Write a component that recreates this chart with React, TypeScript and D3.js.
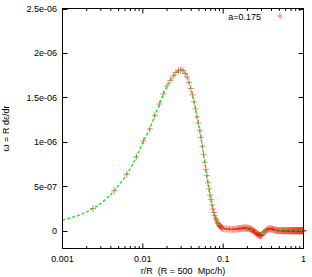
import React from 'react';
import * as d3 from 'd3';

// tick labels
const xTicks = [0.001, 0.01, 0.1, 1];
const xTickLabels = ['0.001', '0.01', '0.1', '1'];
// y values are in units of 1e-6
const yTicks = [0, 0.5, 1, 1.5, 2, 2.5];
const yTickLabels = ['0', '5e-07', '1e-06', '1.5e-06', '2e-06', '2.5e-06'];

const legendLabel = 'a=0.175';

// measured points (red +), r < 0.1
const dataR = [
  0.0024, 0.0044, 0.0063, 0.0083, 0.0102, 0.0122, 0.0141, 0.0161, 0.0180, 0.0200,
  0.0219, 0.0239, 0.0258, 0.0278, 0.0297, 0.0317, 0.0336, 0.0356, 0.0375, 0.0395,
  0.0414, 0.0434, 0.0453, 0.0473, 0.0492, 0.0512, 0.0531, 0.0551, 0.0570, 0.0590,
  0.0609, 0.0629, 0.0648, 0.0668, 0.0687, 0.0707, 0.0726, 0.0746, 0.0765, 0.0785,
  0.0804, 0.0824, 0.0843, 0.0863, 0.0882, 0.0902, 0.0921, 0.0941, 0.0960, 0.0980,
  0.0999,
];
const dataV = [
  0.25, 0.45, 0.635, 0.83, 1.01, 1.145, 1.295, 1.425, 1.54, 1.63,
  1.69, 1.74, 1.78, 1.80, 1.81, 1.80, 1.77, 1.73, 1.67, 1.60,
  1.53, 1.45, 1.37, 1.28, 1.21, 1.13, 1.05, 0.95, 0.86, 0.77,
  0.69, 0.62, 0.54, 0.47, 0.40, 0.35, 0.29, 0.245, 0.205, 0.17,
  0.14, 0.12, 0.095, 0.08, 0.065, 0.055, 0.048, 0.04, 0.033, 0.028,
  0.025,
];

// measured points beyond r = 0.1 (they merge into a band)
const bandR = [
  0.105, 0.110, 0.115, 0.120, 0.125, 0.130, 0.135, 0.140, 0.145, 0.150,
  0.155, 0.160, 0.165, 0.170, 0.175, 0.180, 0.185, 0.190, 0.195, 0.200,
  0.205, 0.210, 0.215, 0.220, 0.225, 0.230, 0.235, 0.240, 0.245, 0.250,
  0.255, 0.260, 0.265, 0.270, 0.275, 0.280, 0.285, 0.290, 0.295, 0.300,
  0.31, 0.32, 0.33, 0.34, 0.35, 0.36, 0.37, 0.38, 0.39, 0.40,
  0.41, 0.42, 0.43, 0.44, 0.45, 0.46, 0.47, 0.48, 0.49, 0.50,
  0.51, 0.52, 0.53, 0.54, 0.55, 0.56, 0.57, 0.58, 0.59, 0.60,
  0.61, 0.62, 0.63, 0.64, 0.65, 0.66, 0.67, 0.68, 0.69, 0.70,
  0.71, 0.72, 0.73, 0.74, 0.75, 0.76, 0.77, 0.78, 0.79, 0.80,
  0.81, 0.82, 0.83, 0.84, 0.85, 0.86, 0.87, 0.88, 0.89, 0.90,
  0.91, 0.92, 0.93, 0.94, 0.95, 0.96, 0.97, 0.98, 0.99, 1.00,
];
const bandV = [
  0.022, 0.020, 0.018, 0.017, 0.016, 0.016, 0.016, 0.017, 0.018, 0.020,
  0.022, 0.024, 0.026, 0.027, 0.029, 0.030, 0.030, 0.030, 0.029, 0.028,
  0.026, 0.024, 0.021, 0.017, 0.013, 0.008, 0.003, -0.003, -0.009, -0.015,
  -0.021, -0.028, -0.034, -0.040, -0.045, -0.050, -0.053, -0.055, -0.054, -0.050,
  -0.038, -0.022, -0.009, 0.002, 0.010, 0.016, 0.020, 0.022, 0.022, 0.020,
  0.017, 0.014, 0.011, 0.008, 0.006, 0.004, 0.003, 0.002, 0.001, 0.001,
  0.001, 0.001, 0.001, 0.001, 0.000, 0.000, 0.000, 0.000, 0.000, 0.000,
  0.000, 0.000, 0.000, 0.000, 0.000, 0.000, 0.000, 0.000, 0.000, 0.000,
  0.000, 0.000, 0.000, 0.000, 0.000, 0.000, 0.000, 0.000, 0.000, 0.000,
  0.000, 0.000, 0.000, 0.000, 0.000, 0.000, 0.000, 0.000, 0.000, 0.000,
  0.000, 0.000, 0.000, 0.000, 0.000, 0.000, 0.000, 0.000, 0.000, 0.000,
];

// fitted curve (green dashed)
const fitR = [
  0.001, 0.0015, 0.002, 0.003, 0.004, 0.005, 0.006, 0.007, 0.008, 0.009,
  0.010, 0.012, 0.014, 0.016, 0.018, 0.020, 0.022, 0.024, 0.026, 0.028,
  0.030, 0.032, 0.034, 0.036, 0.038, 0.040, 0.042, 0.044, 0.046, 0.048,
  0.050, 0.052, 0.054, 0.056, 0.058, 0.060, 0.062, 0.064, 0.066, 0.068,
  0.070, 0.073, 0.076, 0.080, 0.085, 0.090, 0.095, 0.10, 0.12, 0.14,
  0.16, 0.18, 0.20, 0.22, 0.24, 0.26, 0.28, 0.30, 0.32, 0.34,
  0.37, 0.40, 0.45, 0.5, 0.6, 0.7, 0.8, 0.9, 1.0,
];
const fitV = [
  0.12, 0.165, 0.21, 0.305, 0.41, 0.51, 0.605, 0.70, 0.80, 0.90,
  1.00, 1.13, 1.29, 1.42, 1.54, 1.63, 1.69, 1.74, 1.78, 1.80,
  1.81, 1.80, 1.77, 1.72, 1.66, 1.58, 1.51, 1.42, 1.34, 1.25,
  1.17, 1.09, 1.00, 0.91, 0.82, 0.73, 0.64, 0.56, 0.49, 0.42,
  0.36, 0.28, 0.21, 0.145, 0.09, 0.055, 0.035, 0.025, 0.012, 0.012,
  0.015, 0.02, 0.02, 0.015, 0.005, -0.008, -0.018, -0.02, -0.012, 0.0,
  0.01, 0.012, 0.007, 0.003, 0.0, 0.0, 0.0, 0.0, 0.0,
];

const W = 312;
const H = 277;
const left = 62.5, right = 303.5, top = 8.5, bottom = 248.5;
const font = '"Liberation Sans", Arial, sans-serif';

export default function App() {
  const x = d3.scaleLog().domain([0.001, 1]).range([left, right]);
  const y = d3.scaleLinear().domain([-0.2, 2.5]).range([bottom, top]);

  const minorX = x.ticks().filter(t => !xTicks.some(m => Math.abs(m - t) < 1e-9));

  const line = d3.line<number>()
    .x((_, i) => x(fitR[i]))
    .y(d => y(d));

  const points = [
    ...dataR.map((r, i) => [x(r), y(dataV[i])]),
    ...bandR.map((r, i) => [x(r), y(bandV[i])]),
  ];
  const plus = (px: number, py: number) => `M${px - 3},${py}h6M${px},${py - 3.5}v7`;

  return (
    <svg width={W} height={H} style={{ position: 'absolute', left: 0, top: 0 }}
      fontFamily={font} fontSize={9}>
      <rect width={W} height={H} fill="#fff" />

      {/* ticks */}
      <g stroke="#000" strokeWidth={1}>
        {xTicks.map(t => (
          <g key={'xm' + t}>
            <line x1={x(t)} x2={x(t)} y1={bottom} y2={bottom - 5} />
            <line x1={x(t)} x2={x(t)} y1={top} y2={top + 5} />
          </g>
        ))}
        {minorX.map(t => (
          <g key={'xn' + t}>
            <line x1={x(t)} x2={x(t)} y1={bottom} y2={bottom - 2.5} />
            <line x1={x(t)} x2={x(t)} y1={top} y2={top + 2.5} />
          </g>
        ))}
        {yTicks.map(t => (
          <g key={'y' + t}>
            <line x1={left} x2={left + 5} y1={Math.round(y(t)) + 0.5} y2={Math.round(y(t)) + 0.5} />
            <line x1={right} x2={right - 5} y1={Math.round(y(t)) + 0.5} y2={Math.round(y(t)) + 0.5} />
          </g>
        ))}
      </g>

      {/* tick labels */}
      {xTicks.map((t, i) => (
        <text key={'xl' + t} x={x(t)} y={262} textAnchor="middle">{xTickLabels[i]}</text>
      ))}
      {yTicks.map((t, i) => (
        <text key={'yl' + t} x={57} y={y(t) + 3.5} textAnchor="end">{yTickLabels[i]}</text>
      ))}

      {/* data points, one path each so overlaps build up to solid red */}
      <g stroke="#ff0000" strokeWidth={1} strokeOpacity={0.5} fill="none">
        {points.map((p, i) => <path key={i} d={plus(p[0], p[1])} />)}
      </g>

      {/* fitted line */}
      <path d={line(fitV) || ''} stroke="#00e000" strokeWidth={1.2} strokeDasharray="3,2" fill="none" />

      {/* legend */}
      <text x={261} y={19.5} textAnchor="end">{legendLabel}</text>
      <path d={plus(280, 16)} stroke="#ff0000" strokeWidth={1} strokeOpacity={0.5} fill="none" />

      {/* frame */}
      <rect x={left} y={top} width={right - left} height={bottom - top} fill="none" stroke="#000" strokeWidth={1} />

      {/* axis titles */}
      <text x={(left + right) / 2} y={274} textAnchor="middle" style={{ whiteSpace: 'pre' }}>{'r/R  (R = 500  Mpc/h)'}</text>
      <text transform={`translate(8.5,${(top + bottom) / 2}) rotate(-90)`} textAnchor="middle">ω = R dε/dr</text>
    </svg>
  );
}
